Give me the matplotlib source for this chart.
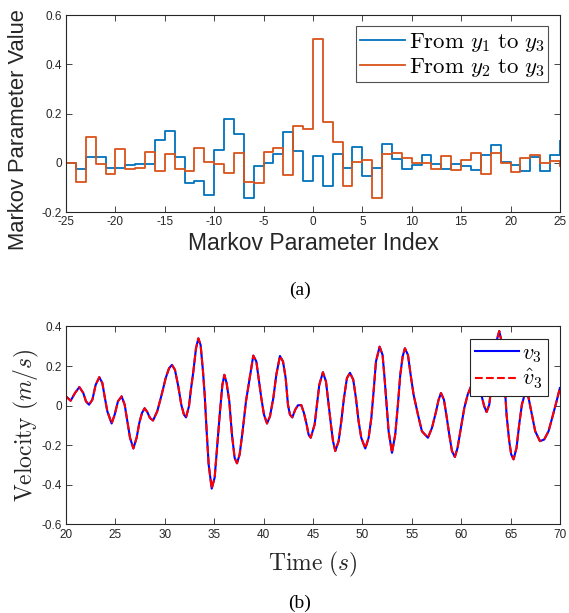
import matplotlib
matplotlib.use('Agg')
import matplotlib.pyplot as plt
import numpy as np

# Impostazioni generali
plt.rcParams['axes.unicode_minus'] = False
plt.rcParams['mathtext.fontset'] = 'cm'
plt.rcParams['font.family'] = ['Liberation Sans', 'DejaVu Sans']

# Dati grafico (a): parametri di Markov
indici = list(range(-25, 26))
da_y1 = [0.000, -0.024, 0.024, 0.022, -0.022, -0.019, -0.009, -0.004, -0.005, 0.091,
         0.130, 0.022, -0.081, -0.073, -0.129, 0.051, 0.177, 0.118, -0.141, -0.012,
         -0.001, 0.034, 0.126, 0.046, -0.073, 0.028, -0.096, 0.037, -0.019, 0.065,
         -0.055, -0.019, 0.077, 0.015, -0.024, -0.009, 0.032, -0.005, -0.026, -0.004,
         -0.012, -0.031, 0.032, 0.073, 0.003, -0.007, -0.035, 0.023, -0.034, 0.030,
         0.087]
da_y2 = [0.000, -0.079, 0.104, -0.003, -0.046, 0.057, -0.026, -0.020, 0.045, -0.032,
         0.034, -0.024, -0.034, 0.060, 0.003, -0.004, -0.043, 0.041, -0.077, -0.081,
         0.045, 0.062, -0.049, 0.150, 0.137, 0.502, 0.164, 0.085, -0.096, 0.003,
         0.011, -0.141, 0.035, 0.040, 0.018, 0.000, 0.000, -0.024, 0.028, -0.031,
         0.011, 0.039, -0.047, 0.039, 0.000, -0.038, 0.018, 0.030, -0.001, 0.008,
         -0.011]

# Dati grafico (b): velocita' v3
tempo = [20.00, 20.47, 20.91, 21.35, 21.75, 22.02, 22.33, 22.67, 23.00, 23.37,
         23.68, 23.91, 24.18, 24.62, 24.93, 25.26, 25.63, 25.94, 26.21, 26.48,
         26.82, 27.15, 27.42, 27.69, 27.96, 28.23, 28.50, 28.81, 29.24, 29.68,
         30.09, 30.43, 30.73, 31.03, 31.37, 31.67, 31.94, 32.15, 32.45, 32.62,
         32.89, 33.16, 33.40, 33.63, 33.87, 34.04, 34.24, 34.44, 34.75, 35.05,
         35.32, 35.59, 35.83, 36.03, 36.26, 36.53, 36.80, 37.07, 37.31, 37.58,
         37.88, 38.22, 38.59, 38.96, 39.27, 39.50, 39.77, 40.04, 40.35, 40.65,
         40.99, 41.29, 41.66, 41.97, 42.24, 42.47, 42.67, 42.91, 43.21, 43.48,
         43.82, 44.09, 44.36, 44.56, 44.77, 45.17, 45.41, 45.64, 46.01, 46.32,
         46.59, 46.82, 47.03, 47.26, 47.60, 47.87, 48.14, 48.44, 48.75, 49.08,
         49.35, 49.62, 49.89, 50.30, 50.64, 50.91, 51.14, 51.38, 51.75, 52.05,
         52.25, 52.46, 52.66, 53.00, 53.33, 53.60, 53.84, 54.08, 54.31, 54.62,
         54.89, 55.19, 55.63, 56.03, 56.64, 57.05, 57.45, 57.72, 57.96, 58.26,
         58.53, 58.80, 59.07, 59.37, 59.64, 59.98, 60.32, 60.66, 61.43, 62.07,
         62.34, 62.58, 62.85, 63.12, 63.39, 63.66, 63.86, 64.10, 64.37, 64.60,
         64.87, 65.07, 65.31, 65.61, 65.88, 66.15, 66.56, 66.83, 67.17, 67.50,
         67.98, 68.41, 68.85, 69.26, 69.66, 70.00]
v3 = [0.047, 0.025, 0.064, 0.094, 0.064, 0.022, 0.005, 0.030, 0.105, 0.144,
      0.114, 0.047, -0.028, -0.090, -0.045, 0.022, 0.047, 0.005, -0.079, -0.162,
      -0.216, -0.162, -0.087, -0.037, -0.013, -0.032, -0.062, -0.075, -0.028, 0.055,
      0.139, 0.189, 0.206, 0.181, 0.097, 0.005, -0.045, -0.059, -0.003, 0.072,
      0.172, 0.290, 0.340, 0.306, 0.172, 0.055, -0.129, -0.296, -0.419, -0.363,
      -0.196, -0.028, 0.105, 0.156, 0.114, 0.022, -0.146, -0.263, -0.291, -0.246,
      -0.129, 0.022, 0.139, 0.253, 0.223, 0.139, 0.039, -0.045, -0.090, -0.054,
      0.039, 0.156, 0.251, 0.223, 0.139, 0.005, -0.045, -0.059, -0.020, 0.002,
      0.003, -0.037, -0.095, -0.146, -0.162, -0.095, 0.005, 0.105, 0.169, 0.122,
      0.005, -0.095, -0.179, -0.229, -0.179, -0.079, 0.039, 0.139, 0.166, 0.131,
      0.039, -0.079, -0.162, -0.216, -0.162, -0.062, 0.072, 0.223, 0.298, 0.256,
      0.139, 0.005, -0.129, -0.238, -0.146, 0.005, 0.156, 0.248, 0.290, 0.256,
      0.156, 0.055, -0.045, -0.129, -0.162, -0.112, -0.032, 0.030, 0.064, 0.030,
      -0.054, -0.146, -0.229, -0.259, -0.213, -0.112, -0.012, 0.055, 0.150, 0.050,
      -0.003, -0.032, 0.005, 0.122, 0.256, 0.340, 0.377, 0.323, 0.139, -0.045,
      -0.179, -0.246, -0.271, -0.213, -0.095, 0.005, 0.080, 0.039, -0.045, -0.129,
      -0.179, -0.171, -0.129, -0.054, 0.022, 0.089]
v3_stima = list(v3)  # la stima coincide visivamente con il segnale misurato

xtick_a = [-25, -20, -15, -10, -5, 0, 5, 10, 15, 20, 25]
ytick_a = [-0.2, 0, 0.2, 0.4, 0.6]
ylab_a = ['-0.2', '0', '0.2', '0.4', '0.6']
xtick_b = [20, 25, 30, 35, 40, 45, 50, 55, 60, 65, 70]
ytick_b = [-0.6, -0.4, -0.2, 0, 0.2, 0.4]
ylab_b = ['-0.6', '-0.4', '-0.2', '0', '0.2', '0.4']

colore_assi = '#262626'


def stile_assi(ax):
    # stile tipo MATLAB: box chiuso, tacche verso l'interno
    for s in ax.spines.values():
        s.set_color(colore_assi)
        s.set_linewidth(0.8)
    ax.tick_params(direction='in', top=True, right=True, length=4, width=0.6,
                   colors=colore_assi, labelsize=8.5, pad=3)


fig = plt.figure(figsize=(5.69, 6.13), dpi=100)

# --- grafico (a) ---
ax1 = fig.add_axes([0.116, 0.654, 0.868, 0.3215])
ax1.step(indici, da_y1, where='post', color='#0072BD', lw=1.3, label=r'$\mathrm{From}\ y_1\ \mathrm{to}\ y_3$')
ax1.step(indici, da_y2, where='post', color='#D95319', lw=1.3, label=r'$\mathrm{From}\ y_2\ \mathrm{to}\ y_3$')
ax1.set_xlim(-25, 25)
ax1.set_ylim(-0.2, 0.6)
ax1.set_xticks(xtick_a)
ax1.set_yticks(ytick_a)
ax1.set_yticklabels(ylab_a)
ax1.set_xlabel('Markov Parameter Index', fontsize=16.5, color=colore_assi, labelpad=3)
ax1.set_ylabel('Markov Parameter Value', fontsize=15.8, color=colore_assi)
# etichetta y spostata un po' in basso come nell'originale (resta dentro la figura)
ax1.yaxis.set_label_coords(-0.074, 0.42)
stile_assi(ax1)
leg1 = ax1.legend(loc='upper right', fontsize=16.5, frameon=True, fancybox=False,
                  edgecolor=colore_assi, handlelength=2.0, handletextpad=0.15,
                  borderpad=0.15, labelspacing=0.05, borderaxespad=0.5)
leg1.get_frame().set_linewidth(0.8)

fig.text(0.527, 0.527, '(a)', ha='center', va='center', fontsize=14, family='Liberation Serif')

# --- grafico (b) ---
ax2 = fig.add_axes([0.116, 0.1444, 0.868, 0.323])
ax2.plot(tempo, v3, color='b', lw=1.5, label=r'$v_3$')
ax2.plot(tempo, v3_stima, color='r', lw=1.5, ls='--', label=r'$\hat{v}_3$')
ax2.set_xlim(20, 70)
ax2.set_ylim(-0.6, 0.4)
ax2.set_xticks(xtick_b)
ax2.set_yticks(ytick_b)
ax2.set_yticklabels(ylab_b)
ax2.set_xlabel(r'$\mathrm{Time}\ (s)$', fontsize=17, color=colore_assi, labelpad=7)
ax2.set_ylabel(r'$\mathrm{Velocity}\ (m/s)$', fontsize=17, color=colore_assi, labelpad=0)
stile_assi(ax2)
leg2 = ax2.legend(loc='upper right', fontsize=16, frameon=True, fancybox=False,
                  edgecolor=colore_assi, handlelength=2.0, handletextpad=0.15,
                  borderpad=0.2, labelspacing=0.1, borderaxespad=0.55, framealpha=1)
leg2.get_frame().set_linewidth(0.8)

fig.text(0.527, 0.016, '(b)', ha='center', va='center', fontsize=14, family='Liberation Serif')

fig.savefig('out.png', dpi=100)
